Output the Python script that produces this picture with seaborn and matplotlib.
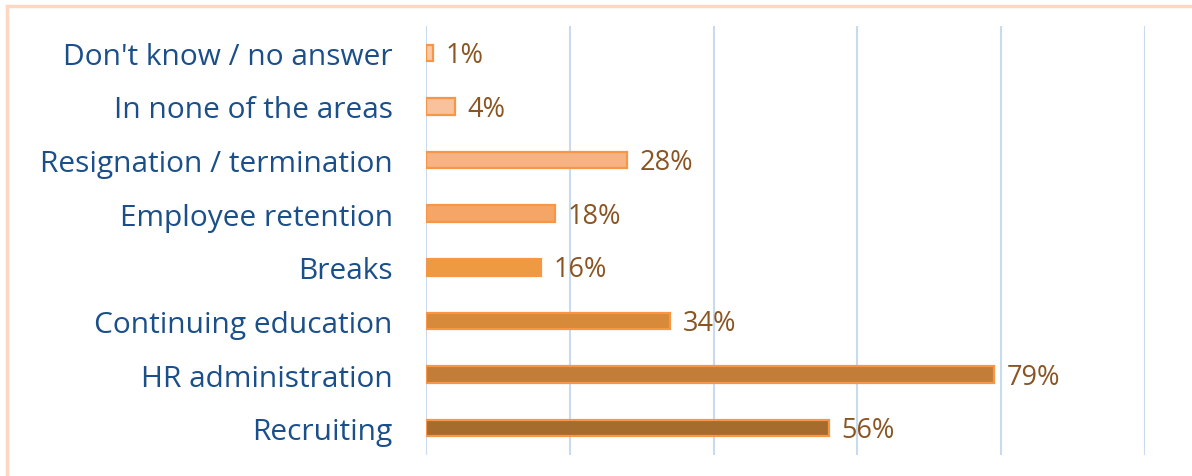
import matplotlib.pyplot as plt
import matplotlib.patches as patches
import pandas as pd
import seaborn as sns

categories = ["Don't know / no answer", "In none of the areas", "Resignation / termination",
              "Employee retention", "Breaks", "Continuing education",
              "HR administration", "Recruiting"]
values = [1, 4, 28, 18, 16, 34, 79, 56]
bar_colors = ["#FAC9A7", "#F9C19C", "#F7B283", "#F5A565",
              "#EE9A42", "#D68A3A", "#C27D38", "#A66C2E"]

df = pd.DataFrame({"area": categories, "share": values})

sns.set_theme(style="white")
plt.rcParams['font.family'] = ['Open Sans', 'DejaVu Sans']

fig = plt.figure(figsize=(11.92, 4.77), dpi=100)
ax = fig.add_axes([426 / 1192, 1 - 456 / 477, (1145 - 426) / 1192, (456 - 27) / 477])

sns.barplot(data=df, y="area", x="share", hue="area", palette=bar_colors,
            order=categories, hue_order=categories, legend=False, saturation=1,
            width=0.31, edgecolor="#F79646", linewidth=1.6, ax=ax)

for patch, v in zip(ax.patches, values):
    y = patch.get_y() + patch.get_height() / 2
    ax.annotate(f"{v}%", (v, y), xytext=(9, -1.5), textcoords="offset points",
                va="center", ha="left", fontsize=19.5, color="#8A5522")

ax.set_xlim(0, 100)
ax.set_xticks([0, 20, 40, 60, 80, 100])
ax.set_xticklabels([])
ax.tick_params(axis="x", length=0)
ax.tick_params(axis="y", length=0, pad=24, labelsize=21.5, labelcolor="#1B4F8A")
ax.grid(axis="x", color="#C8DAEE", linewidth=1.5)
ax.set_axisbelow(True)
ax.set_xlabel("")
ax.set_ylabel("")
for s in ax.spines.values():
    s.set_visible(False)

# light frame around the chart area
fig.patches.append(patches.Rectangle((6.5 / 1192, -0.1), 1.2, 1 - 6.5 / 477 + 0.1,
                                     transform=fig.transFigure, fill=False,
                                     edgecolor="#FDD8C0", linewidth=2.5))

fig.savefig("out.png", dpi=100)
